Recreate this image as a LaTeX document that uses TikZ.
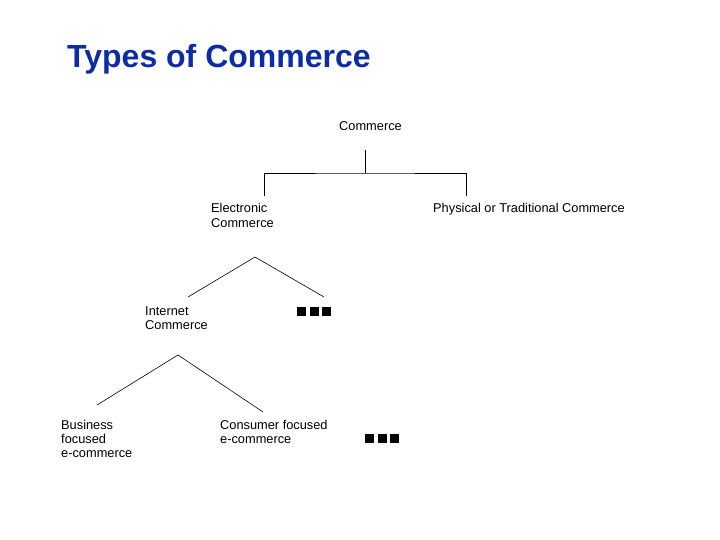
\documentclass[tikz,border=0pt]{standalone}
\usepackage{fontspec}
\setmainfont{Liberation Sans}
\usetikzlibrary{positioning, calc}
\definecolor{cTitle}{HTML}{0C2CA4}
\tikzset{
  label/.style={font=\fontsize{12.8}{14}\selectfont, align=left, inner sep=0pt, anchor=base west},
  titlelabel/.style={font=\fontsize{32}{36}\selectfont\bfseries, text=cTitle, inner sep=0pt, anchor=base west},
  link/.style={draw=black, line width=0.6pt},
  sqbox/.style={fill=black, minimum size=9pt, inner sep=0pt},
}

\begin{document}
\begin{tikzpicture}[x=1pt, y=-1pt]
  \useasboundingbox (0,0) rectangle (720,540);

  % ----------------------------------------------------------------
  % Title
  % ----------------------------------------------------------------
  \node[titlelabel] (title) at (67,68) {Types of Commerce};

  % ----------------------------------------------------------------
  % Level 1: Commerce -> Electronic / Physical
  %   (base anchor = baseline of the last line)
  % ----------------------------------------------------------------
  \node[label] (commerce) at (339,131) {Commerce};
  \node[label] (ecom) at (211,227) {Electronic\\Commerce};
  \node[label] (phys) at (433,213) {Physical or Traditional Commerce};

  \coordinate (top)  at (365,150);
  \coordinate (mid)  at (365,173);
  \coordinate (eTop) at (264,196);
  \coordinate (pTop) at (466,196);
  \draw[link] (top) -- (mid);
  \draw[link] (eTop) |- (mid) -| (pTop);

  % ----------------------------------------------------------------
  % Level 2: Electronic -> Internet / more
  % ----------------------------------------------------------------
  \node[label] (inet) at (145,329) {Internet\\Commerce};
  \foreach \k in {0,1,2}
    \node[sqbox] (sqa-\k) at (301.5+\k*12.5,311) {};

  \coordinate (eApex) at (255,257);
  \coordinate (iTop)  at (188,297);
  \coordinate (mTop)  at (324,297);
  \draw[link] (iTop) -- (eApex) -- (mTop);

  % ----------------------------------------------------------------
  % Level 3: Internet -> Business / Consumer / more
  % ----------------------------------------------------------------
  \node[label] (biz) at (61,457) {Business\\focused\\e-commerce};
  \node[label] (cons) at (220,443) {Consumer focused\\e-commerce};
  \foreach \k in {0,1,2}
    \node[sqbox] (sqb-\k) at (369.5+\k*12.5,438) {};

  \coordinate (iApex) at (178,355);
  \coordinate (bTop)  at (97,405);
  \coordinate (cTop)  at (263,412);
  \draw[link] (bTop) -- (iApex) -- (cTop);

\end{tikzpicture}
\end{document}
